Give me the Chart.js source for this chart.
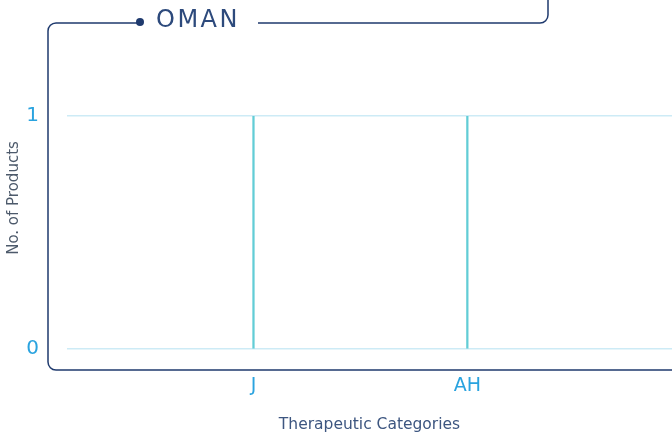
<!DOCTYPE html>
<html>
<head>
<meta charset="utf-8">
<script src="https://cdn.jsdelivr.net/npm/chart.js@4/dist/chart.umd.min.js"></script>
<style>
  html, body { margin: 0; padding: 0; background: #fff; overflow: hidden; }
  #wrap { width: 672px; height: 436px; position: relative; }
</style>
</head>
<body>
<div id="wrap"><canvas id="countryChart"></canvas></div>
<script>
// products per therapeutic category
const country = 'OMAN';
const categories = ['J', 'AH'];
const products = [1, 1];
const yTicks = [0, 1];

const FONT = '"DejaVu Sans", sans-serif';
const NAVY = '#1f3a6e';
const BLUE = '#2aa3df';

// rounded frame with the country name sitting in its top edge
const framePlugin = {
  id: 'frame',
  afterDraw(chart) {
    const c = chart.ctx;
    c.save();
    c.strokeStyle = NAVY;
    c.lineWidth = 1.5;
    const top = 23, left = 48, bottom = 370, r = 8;
    c.beginPath();
    c.moveTo(548, -2);
    c.lineTo(548, top - r);
    c.arcTo(548, top, 548 - r, top, r);
    c.lineTo(258, top);
    c.stroke();
    c.beginPath();
    c.moveTo(137, top);
    c.lineTo(left + r, top);
    c.arcTo(left, top, left, top + r, r);
    c.lineTo(left, bottom - r);
    c.arcTo(left, bottom, left + r, bottom, r);
    c.lineTo(chart.width + 5, bottom);
    c.stroke();
    c.fillStyle = NAVY;
    c.beginPath();
    c.arc(140, 22, 4, 0, Math.PI * 2);
    c.fill();
    c.fillStyle = '#2d4a7c';
    c.font = '24px ' + FONT;
    c.letterSpacing = '2.5px';
    c.textBaseline = 'middle';
    c.textAlign = 'left';
    c.fillText(country, 156, 21);
    c.letterSpacing = '0px';
    // y axis title
    c.translate(14, 198);
    c.rotate(-Math.PI / 2);
    c.textAlign = 'center';
    c.fillStyle = '#4d5a6b';
    c.font = '15px ' + FONT;
    c.fillText('No. of Products', 0, 0);
    c.restore();
  }
};

new Chart(document.getElementById('countryChart'), {
  type: 'bar',
  data: {
    datasets: [{
      data: categories.map((_, i) => ({ x: i, y: products[i] })),
      backgroundColor: '#62cdd6',
      barThickness: 1.6
    }]
  },
  options: {
    responsive: true,
    maintainAspectRatio: false,
    animation: false,
    layout: { padding: { top: 116, right: 0, left: 0, bottom: 2 } },
    plugins: { legend: { display: false }, tooltip: { enabled: false } },
    scales: {
      x: {
        type: 'linear',
        offset: false,
        min: -0.872,
        max: 1.957,
        grid: { display: false, drawTicks: false },
        border: { display: false },
        afterBuildTicks: s => { s.ticks = categories.map((_, i) => ({ value: i })); },
        ticks: {
          color: BLUE,
          font: { family: FONT, size: 19 },
          padding: 26,
          callback: v => categories[v]
        },
        title: {
          display: true,
          text: 'Therapeutic Categories',
          color: '#3d5680',
          font: { family: FONT, size: 15.5 },
          padding: { top: 0, bottom: 0 }
        },
        afterFit: s => { s.height = 85; }
      },
      y: {
        min: 0,
        max: 1,
        grid: { color: '#cdebf6', lineWidth: 1.5, drawTicks: false },
        border: { display: false },
        afterBuildTicks: s => { s.ticks = yTicks.map(v => ({ value: v })); },
        ticks: {
          color: BLUE,
          font: { family: FONT, size: 20 },
          padding: 28
        },
        afterFit: s => { s.width = 67; }
      }
    }
  },
  plugins: [framePlugin]
});
</script>
</body>
</html>
